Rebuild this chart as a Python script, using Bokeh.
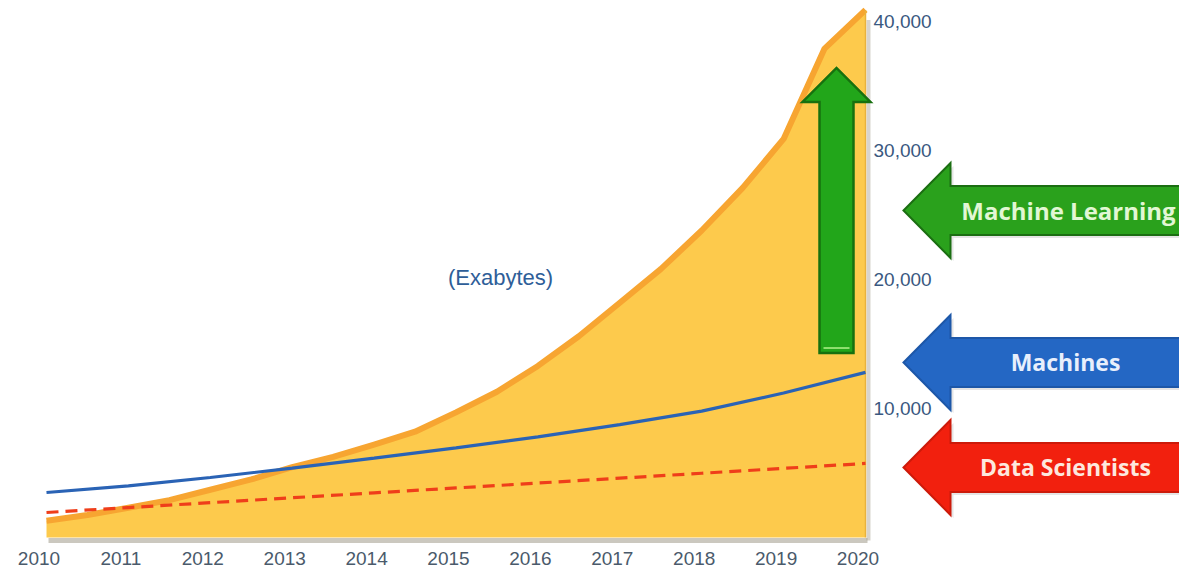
from bokeh.plotting import figure
from bokeh.models import (Range1d, LinearAxis, FixedTicker, NumeralTickFormatter, Label)
from bokeh.embed import file_html
from bokeh.resources import INLINE

# ---------------- data ----------------
years = [2010, 2011, 2012, 2013, 2014, 2015, 2016, 2017, 2018, 2019, 2020]
# total data volume (Exabytes), read at half-year steps
area_years = [2010, 2010.5, 2011, 2011.5, 2012, 2012.5, 2013, 2013.5, 2014, 2014.5,
              2015, 2015.5, 2016, 2016.5, 2017, 2017.5, 2018, 2018.5, 2019, 2019.5, 2020]
area_values = [1300, 1750, 2300, 2900, 3700, 4500, 5450, 6250, 7200, 8200,
               9700, 11300, 13300, 15600, 18200, 20800, 23800, 27100, 30900, 37900, 40900]
machines = [3490, 4000, 4650, 5380, 6150, 6950, 7800, 8750, 9800, 11200, 12800]
data_scientists = [1940, 2320, 2700, 3080, 3460, 3840, 4220, 4600, 4980, 5360, 5740]
y_ticks = [10000, 20000, 30000, 40000]
unit_label = "(Exabytes)"
arrow_labels = ["Machine Learning", "Machines", "Data Scientists"]
arrow_levels = [25350, 13570, 5430]
growth_arrow = [14300, 36400]   # bottom / tip of the vertical arrow

# ---------------- geometry helpers ----------------
W, H = 1179, 571
PX_PER_YEAR = 81.9
X0_PX = 46.0          # pixel position of 2010
Y0_PX = 537.0         # pixel position of value 0
UNITS_PER_PX = 10000 / 129.0

x_start = 2010 - X0_PX / PX_PER_YEAR
x_end = 2010 + (W - X0_PX) / PX_PER_YEAR
y_end = Y0_PX * UNITS_PER_PX
y_start = -(H - Y0_PX) * UNITS_PER_PX

def dx(px):
    return px / PX_PER_YEAR

def dy(px):
    return px * UNITS_PER_PX

def xpx(px):
    return 2010 + (px - X0_PX) / PX_PER_YEAR

p = figure(width=W, height=H, output_backend="svg", toolbar_location=None,
           x_range=Range1d(x_start, x_end), y_range=Range1d(y_start, y_end),
           min_border=0, min_border_left=0, min_border_right=0,
           min_border_top=0, min_border_bottom=0, x_axis_type=None, y_axis_type=None)
p.outline_line_color = None
p.background_fill_color = "white"
p.border_fill_color = "white"
p.grid.visible = False

# shift used only for the year labels (they sit slightly left of the data points)
lbl_shift = dx(7.5)
p.extra_x_ranges = {"lbl": Range1d(x_start + lbl_shift, x_end + lbl_shift)}

# ---------------- area ----------------
x_last = area_years[-1]
p.line([area_years[0] + dx(2), x_last + dx(2)], [-dy(3), -dy(3)],
       line_color="#8c8470", line_width=5, line_alpha=0.45)
p.line([x_last + dx(3), x_last + dx(3)], [-dy(3), area_values[-1] - dy(10)],
       line_color="#8c8470", line_width=4, line_alpha=0.35)

p.varea(x=area_years, y1=[0] * len(area_years), y2=area_values,
        fill_color="#fdca4c")
p.line(area_years, area_values, line_color="#f7a531", line_width=6, line_join="round")
p.line([x_last, x_last], [0, area_values[-1]], line_color="#e9b23c", line_width=1.5)

# ---------------- series lines ----------------
p.line(years, machines, line_color="#2a63b5", line_width=3.2)
p.line(years, data_scientists, line_color="#ef3e1a", line_width=3.2, line_dash="12 7")

# ---------------- vertical growth arrow ----------------
xc = xpx(836)
sw, hw, hh = dx(17), dx(34), dy(34)
yb, yt = growth_arrow
p.patch([xc - sw, xc - sw, xc - hw, xc, xc + hw, xc + sw, xc + sw],
        [yb, yt - hh, yt - hh, yt, yt - hh, yt - hh, yb],
        fill_color="#22a61a", line_color="#17700f", line_width=2.5, line_join="miter")
p.line([xc - sw + dx(4), xc + sw - dx(4)], [yb + dy(5), yb + dy(5)],
       line_color="#8fe070", line_width=2)

# ---------------- left-pointing label arrows ----------------
arrow_fill = ["#2aa11c", "#2467c4", "#f2200e"]
arrow_line = ["#1b6e12", "#1d57a8", "#cc1a0a"]
text_color = ["#e2f7d4", "#e8effc", "#fde8de"]
x_tip = xpx(903)
x_base = xpx(950)
x_far = x_end + 1
for lab, lvl, fc, lc, tc in zip(arrow_labels, arrow_levels, arrow_fill, arrow_line, text_color):
    Hh, hh2 = dy(47.5), dy(24.5)
    p.patch([x_tip + dx(3), x_base + dx(3), x_base + dx(3), x_far, x_far, x_base + dx(3), x_base + dx(3)],
            [lvl - dy(3), lvl + Hh - dy(3), lvl + hh2 - dy(3), lvl + hh2 - dy(3),
             lvl - hh2 - dy(3), lvl - hh2 - dy(3), lvl - Hh - dy(3)],
            fill_color="#999999", fill_alpha=0.25, line_color=None)
    p.patch([x_tip, x_base, x_base, x_far, x_far, x_base, x_base],
            [lvl, lvl + Hh, lvl + hh2, lvl + hh2, lvl - hh2, lvl - hh2, lvl - Hh],
            fill_color=fc, line_color=lc, line_width=2, line_join="miter")
    big = lab == "Machine Learning"
    p.add_layout(Label(x=xpx(1068 if big else 1065), y=lvl, text=lab, text_align="center",
                       text_baseline="middle", text_font="Open Sans",
                       text_font_style="bold", text_font_size="24px" if big else "23px",
                       text_color=tc))

# ---------------- unit label ----------------
p.add_layout(Label(x=xpx(500), y=(Y0_PX - 277) * UNITS_PER_PX,
                   text=unit_label, text_align="center", text_baseline="middle",
                   text_font="Liberation Sans", text_font_size="22px", text_color="#2e5e98"))

# ---------------- axes ----------------
yax = LinearAxis(ticker=FixedTicker(ticks=y_ticks),
                 formatter=NumeralTickFormatter(format="0,0"))
yax.fixed_location = xpx(868)
yax.axis_line_color = None
yax.major_tick_line_color = None
yax.minor_tick_line_color = None
yax.major_tick_in = 0
yax.major_tick_out = 0
yax.major_label_standoff = 5
yax.major_label_text_font = "Liberation Sans"
yax.major_label_text_font_size = "19px"
yax.major_label_text_color = "#3a5880"
p.add_layout(yax, "right")

xax = LinearAxis(x_range_name="lbl", ticker=FixedTicker(ticks=years))
xax.fixed_location = 0
xax.axis_line_color = None
xax.major_tick_line_color = None
xax.minor_tick_line_color = None
xax.major_tick_in = 0
xax.major_tick_out = 0
xax.major_label_standoff = 14
xax.major_label_text_font = "Liberation Sans"
xax.major_label_text_font_size = "19px"
xax.major_label_text_color = "#4a5a6b"
p.add_layout(xax, "below")

open("out.html", "w").write(file_html(p, INLINE))
